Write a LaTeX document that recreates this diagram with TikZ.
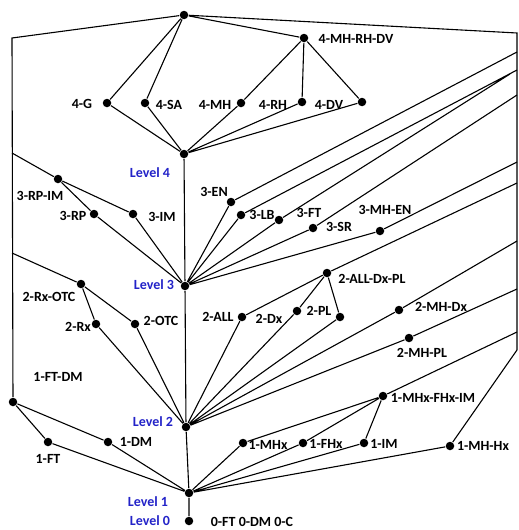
\documentclass[tikz,border=0pt]{standalone}
\usepackage{fontspec}
\setmainfont{Carlito}
\definecolor{lvlblue}{RGB}{35,35,200}

\begin{document}
\begin{tikzpicture}[x=1pt,y=-1pt,line width=1.1pt,
  dot/.style={circle,fill=black,inner sep=0pt,minimum size=8.5pt},
  lab/.style={font=\fontsize{14}{16}\selectfont\bfseries,inner sep=0pt},
  lvl/.style={lab,text=lvlblue}]
\useasboundingbox (0,0) rectangle (519,530);
% level nodes on the middle axis
\node[dot] (top) at (184,15) {};
\node[dot] (L4) at (184,154) {};
\node[dot] (L3) at (185,286) {};
\node[dot] (L2) at (186,427) {};
\node[dot] (L1) at (189,493) {};
\node[dot] (L0) at (189,521) {};
% level 4
\node[dot] (n4G) at (107,103) {};
\node[dot] (n4SA) at (145,103) {};
\node[dot] (n4MH) at (241,103) {};
\node[dot] (n4RH) at (302,102) {};
\node[dot] (n4DV) at (362,102) {};
\node[dot] (n4MHRHDV) at (304,38) {};
% level 3
\node[dot] (n3RPIM) at (58,179) {};
\node[dot] (n3RP) at (94,214) {};
\node[dot] (n3IM) at (133,214) {};
\node[dot] (n3EN) at (231,202) {};
\node[dot] (n3LB) at (241,215) {};
\node[dot] (n3FT) at (279,220) {};
\node[dot] (n3SR) at (313,228) {};
\node[dot] (n3MHEN) at (380,231) {};
% level 2
\node[dot] (n2RxOTC) at (81,284) {};
\node[dot] (n2Rx) at (96,324) {};
\node[dot] (n2OTC) at (135,324) {};
\node[dot] (n2ALL) at (242,317) {};
\node[dot] (n2Dx) at (297,311) {};
\node[dot] (n2PL) at (340,317) {};
\node[dot] (n2ADP) at (327,273) {};
\node[dot] (n2MHDx) at (399,310) {};
\node[dot] (n2MHPL) at (409,338) {};
% level 1
\node[dot] (n1FTDM) at (13,402) {};
\node[dot] (n1FT) at (48,442) {};
\node[dot] (n1DM) at (108,442) {};
\node[dot] (n1MHx) at (243,443) {};
\node[dot] (n1FHx) at (303,443) {};
\node[dot] (n1IM) at (364,443) {};
\node[dot] (n1MFI) at (383,396) {};
\node[dot] (n1MHHx) at (450,446) {};
% bends on the left and right borders
\coordinate (cTL) at (12,38);
\coordinate (cL3) at (12,153);
\coordinate (cL2) at (12,253);
\coordinate (cTR) at (517,33);
\coordinate (e3EN) at (517,52);
\coordinate (e3LB) at (517,70);
\coordinate (e3FT) at (510,74);
\coordinate (e3SR) at (517,95);
\coordinate (e3MHEN) at (517,162);
\coordinate (e2ADP) at (517,183);
\coordinate (e2MHDx) at (517,241);
\coordinate (e2MHPL) at (517,289);
\coordinate (e1MFI) at (517,332);
\coordinate (e1MHHx) at (517,350);
% edges
\draw (top)--(cTL)--(n1FTDM) (top)--(n4G) (top)--(n4SA) (top)--(n4MHRHDV) (top)--(cTR)--(e1MHHx);
\draw (n4MHRHDV)--(n4MH) (n4MHRHDV)--(n4RH) (n4MHRHDV)--(n4DV);
\draw (L4)--(n4G) (L4)--(n4SA) (L4)--(n4MH) (L4)--(n4RH) (L4)--(n4DV) (L4)--(L3);
\draw (L3)--(n3RP) (L3)--(n3IM) (L3)--(n3EN) (L3)--(n3LB) (L3)--(n3FT) (L3)--(n3SR) (L3)--(n3MHEN) (L3)--(L2);
\draw (cL3)--(n3RPIM)--(n3RP) (n3RPIM)--(n3IM);
\draw (n3EN)--(e3EN) (n3LB)--(e3LB) (n3FT)--(e3FT) (n3SR)--(e3SR) (n3MHEN)--(e3MHEN);
\draw (L2)--(n2Rx) (L2)--(n2OTC) (L2)--(n2ALL) (L2)--(n2Dx) (L2)--(n2PL) (L2)--(n2MHDx) (L2)--(n2MHPL) (L2)--(L1);
\draw (cL2)--(n2RxOTC)--(n2Rx) (n2RxOTC)--(n2OTC);
\draw (n2ADP)--(n2ALL) (n2ADP)--(n2Dx) (n2ADP)--(n2PL) (n2ADP)--(e2ADP);
\draw (n2MHDx)--(e2MHDx) (n2MHPL)--(e2MHPL);
\draw (L1)--(n1FT) (L1)--(n1DM) (L1)--(n1MHx) (L1)--(n1FHx) (L1)--(n1IM) (L1)--(n1MHHx) (L1)--(L0);
\draw (n1FTDM)--(n1FT) (n1FTDM)--(n1DM);
\draw (n1MFI)--(n1MHx) (n1MFI)--(n1FHx) (n1MFI)--(n1IM) (n1MFI)--(e1MFI) (n1MHHx)--(e1MHHx);
% labels
\node[lab] (t4G) at (82,104) {4-G};
\node[lab] (t4SA) at (169,105) {4-SA};
\node[lab] (t4MH) at (215,105) {4-MH};
\node[lab] (t4RH) at (273,105) {4-RH};
\node[lab] (t4DV) at (329,105) {4-DV};
\node[lab] (t4MHRHDV) at (356,39) {4-MH-RH-DV};
\node[lab] (t3RPIM) at (40,196) {3-RP-IM};
\node[lab] (t3RP) at (73,216) {3-RP};
\node[lab] (t3IM) at (162,217) {3-IM};
\node[lab] (t3EN) at (214,192) {3-EN};
\node[lab] (t3LB) at (262,215) {3-LB};
\node[lab] (t3FT) at (309,213) {3-FT};
\node[lab] (t3SR) at (339,227) {3-SR};
\node[lab] (t3MHEN) at (385,210) {3-MH-EN};
\node[lab] (t2RxOTC) at (49,297) {2-Rx-OTC};
\node[lab] (t2Rx) at (78,327) {2-Rx};
\node[lab] (t2OTC) at (161,321) {2-OTC};
\node[lab] (t2ALL) at (218,317) {2-ALL};
\node[lab] (t2Dx) at (269,319) {2-Dx};
\node[lab] (t2PL) at (319,311) {2-PL};
\node[lab] (t2ADP) at (372,279) {2-ALL-Dx-PL};
\node[lab] (t2MHDx) at (441,307) {2-MH-Dx};
\node[lab] (t2MHPL) at (422,353) {2-MH-PL};
\node[lab] (t1FTDM) at (58,377) {1-FT-DM};
\node[lab] (t1FT) at (48,459) {1-FT};
\node[lab] (t1DM) at (136,442) {1-DM};
\node[lab] (t1MHx) at (268,445) {1-MHx};
\node[lab] (t1FHx) at (326,444) {1-FHx};
\node[lab] (t1IM) at (384,444) {1-IM};
\node[lab] (t1MFI) at (433,398) {1-MHx-FHx-IM};
\node[lab] (t1MHHx) at (483,446) {1-MH-Hx};
\node[lab] (t0) at (252,522) {0-FT 0-DM 0-C};
\node[lvl] (tL4) at (150,173) {Level 4};
\node[lvl] (tL3) at (154,285) {Level 3};
\node[lvl] (tL2) at (153,422) {Level 2};
\node[lvl] (tL1) at (148,502) {Level 1};
\node[lvl] (tL0) at (150,521) {Level 0};
\end{tikzpicture}
\end{document}
